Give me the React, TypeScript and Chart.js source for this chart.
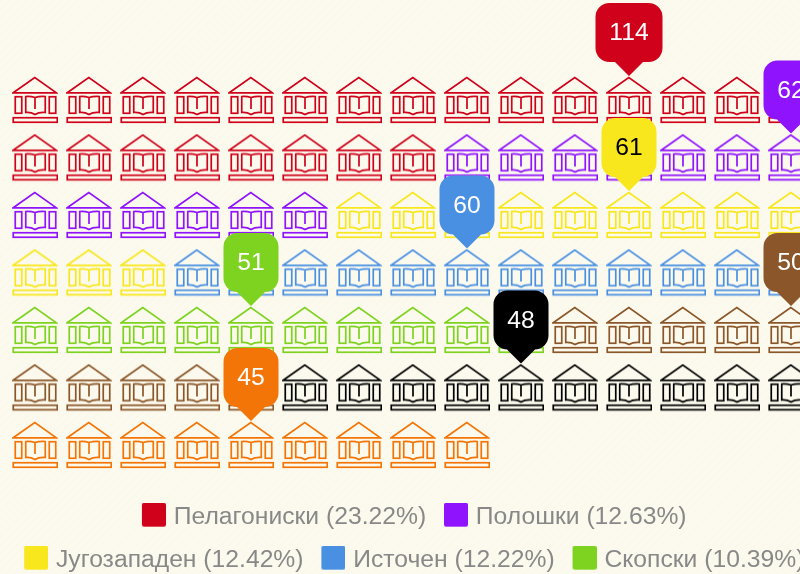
import React, { useEffect, useRef } from "react";
import { Chart, registerables } from "chart.js";

Chart.register(...registerables);

const regions = ["Пелагониски", "Полошки", "Југозападен", "Источен", "Скопски", "Вардарски", "Североисточен", "Југоисточен"];
const values = [114, 62, 61, 60, 51, 50, 48, 45];
const shares = ["23.22", "12.63", "12.42", "12.22", "10.39", "10.18", "9.78", "9.16"];
const iconCounts = [23, 13, 12, 12, 10, 10, 10, 9];
const colors = ["#d0021b", "#9013fe", "#f8e71c", "#4a90e2", "#7ed321", "#8b572a", "#000000", "#f37508"];
const labelColors = ["#ffffff", "#ffffff", "#000000", "#ffffff", "#ffffff", "#ffffff", "#ffffff", "#ffffff"];
const pinColumns = [11, 14, 11, 8, 4, 14, 9, 4];
const pinRows = [0, 1, 2, 3, 4, 4, 5, 6];
const columnsPerRow = 15;

const FONT = '"Liberation Sans", Arial, sans-serif';
const CANVAS_W = 829;
const CANVAS_H = 669;

function makeIcon(color: string) {
  const c = document.createElement("canvas");
  c.width = 46;
  c.height = 48;
  const g = c.getContext("2d")!;
  g.strokeStyle = color;
  g.lineWidth = 1.7;
  g.lineJoin = "miter";
  // roof
  g.beginPath();
  g.moveTo(1.2, 16.8);
  g.lineTo(22.8, 1.6);
  g.lineTo(44.4, 16.8);
  g.closePath();
  g.stroke();
  // columns
  g.strokeRect(3.25, 20.75, 6.5, 16.5);
  g.strokeRect(37.25, 20.75, 6.5, 16.5);
  // open book
  g.beginPath();
  g.moveTo(23, 21.5);
  g.quadraticCurveTo(19, 20.2, 13.75, 20.5);
  g.lineTo(13.75, 36.5);
  g.quadraticCurveTo(19, 36, 23, 38.5);
  g.quadraticCurveTo(27, 36, 33.25, 36.5);
  g.lineTo(33.25, 20.5);
  g.quadraticCurveTo(27, 20.2, 23, 21.5);
  g.moveTo(23, 21.5);
  g.lineTo(23, 33);
  g.stroke();
  // base
  g.strokeRect(1.25, 41.75, 44, 4.5);
  return c;
}

function makeSwatch(color: string) {
  const c = document.createElement("canvas");
  c.width = 28;
  c.height = 30;
  const g = c.getContext("2d")!;
  g.fillStyle = color;
  g.beginPath();
  g.roundRect(4, 0, 24, 24, 2);
  g.fill();
  return c;
}

function buildCells() {
  let cursor = 0;
  return iconCounts.map((count) => {
    const cells: { x: number; y: number }[] = [];
    for (let i = 0; i < count; i++) {
      cells.push({ x: cursor % columnsPerRow, y: Math.floor(cursor / columnsPerRow) });
      cursor++;
    }
    return cells;
  });
}

const pinPlugin = {
  id: "pins",
  afterDatasetsDraw(chart: any) {
    const { ctx, scales } = chart;
    ctx.save();
    ctx.font = `24.7px ${FONT}`;
    ctx.textAlign = "center";
    ctx.textBaseline = "middle";
    values.forEach((value, i) => {
      const px = scales.x.getPixelForValue(pinColumns[i]);
      const tip = scales.y.getPixelForValue(pinRows[i]) - 24;
      const text = String(value);
      const w = Math.round(ctx.measureText(text).width) + 28;
      const h = 59;
      const top = tip - 14 - h;
      const left = px - w / 2;
      const right = left + w;
      const bottom = top + h;
      const r = 14;
      ctx.fillStyle = colors[i];
      ctx.beginPath();
      ctx.moveTo(left + r, top);
      ctx.arcTo(right, top, right, bottom, r);
      ctx.arcTo(right, bottom, left, bottom, r);
      ctx.lineTo(px + 14, bottom);
      ctx.lineTo(px, tip);
      ctx.lineTo(px - 14, bottom);
      ctx.arcTo(left, bottom, left, top, r);
      ctx.arcTo(left, top, right, top, r);
      ctx.closePath();
      ctx.fill();
      ctx.fillStyle = labelColors[i];
      ctx.fillText(text, px, top + h / 2 + 1);
    });
    ctx.restore();
  },
};

export default function App() {
  const ref = useRef<HTMLCanvasElement>(null);
  useEffect(() => {
    document.body.style.margin = "0";
    document.body.style.overflow = "hidden";
    const cells = buildCells();
    const chart = new Chart(ref.current!, {
      type: "scatter",
      data: {
        datasets: regions.map((name, i) => ({
          label: `${name} (${shares[i]}%)`,
          data: cells[i],
          pointStyle: makeIcon(colors[i]),
          backgroundColor: colors[i],
          borderColor: colors[i],
          clip: false,
        })),
      } as any,
      options: {
        responsive: false,
        animation: false,
        layout: { padding: 0, autoPadding: false },
        scales: {
          x: { type: "linear", display: false, min: -35 / 54, max: (CANVAS_W - 35) / 54 },
          y: { type: "linear", display: false, reverse: true, min: -100 / 57.5, max: 387 / 57.5 },
        },
        plugins: {
          tooltip: { enabled: false },
          legend: {
            position: "bottom",
            labels: {
              usePointStyle: true,
              boxWidth: 19,
              boxHeight: 24,
              padding: 18.3,
              color: "#888888",
              font: { family: FONT, size: 24.7 },
              generateLabels: () =>
                regions.map((name, i) => ({
                  text: `${name} (${shares[i]}%)`,
                  fillStyle: colors[i],
                  strokeStyle: colors[i],
                  fontColor: "#888888",
                  pointStyle: makeSwatch(colors[i]),
                  lineWidth: 0,
                  datasetIndex: i,
                })),
            },
          },
        },
      },
      plugins: [pinPlugin],
    } as any);
    return () => chart.destroy();
  }, []);
  return (
    <div
      style={{
        position: "absolute",
        left: 0,
        top: 0,
        width: 800,
        height: 574,
        overflow: "hidden",
        background: "repeating-linear-gradient(135deg, #fbf9ec 0px, #fbf9ec 3px, #fcfaee 3px, #fcfaee 6px)",
      }}
    >
      <canvas ref={ref} width={CANVAS_W} height={CANVAS_H} style={{ display: "block" }} />
    </div>
  );
}
